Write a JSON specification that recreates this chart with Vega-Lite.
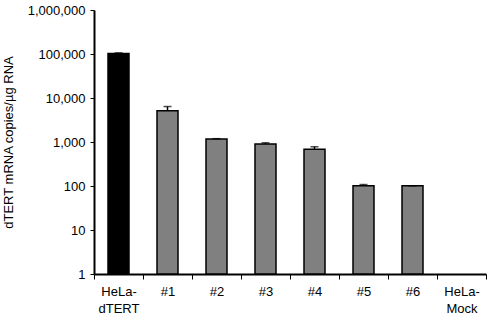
{
  "$schema": "https://vega.github.io/schema/vega-lite/v6.json",
  "width": 392,
  "height": 264,
  "autosize": {"type": "none"},
  "padding": {"left": 94, "top": 10, "right": 2, "bottom": 44},
  "background": "white",
  "config": {
    "view": {"stroke": null},
    "font": "Liberation Sans",
    "style": {"guide-label": {"lineBreak": "\n"}}
  },
  "data": {
    "values": [
      {"sample": "HeLa-dTERT", "value": 103000, "upper": 106000, "group": "pos"},
      {"sample": "#1", "value": 5150, "upper": 6400, "group": "clone"},
      {"sample": "#2", "value": 1170, "upper": 1190, "group": "clone"},
      {"sample": "#3", "value": 900, "upper": 960, "group": "clone"},
      {"sample": "#4", "value": 680, "upper": 780, "group": "clone"},
      {"sample": "#5", "value": 101, "upper": 108, "group": "clone"},
      {"sample": "#6", "value": 101, "upper": 101, "group": "clone"}
    ]
  },
  "layer": [
    {
      "mark": {"type": "bar", "size": 21, "stroke": "black", "strokeWidth": 1.5},
      "encoding": {
        "x": {
          "field": "sample",
          "type": "nominal",
          "sort": null,
          "scale": {"domain": ["HeLa-dTERT", "#1", "#2", "#3", "#4", "#5", "#6", "HeLa-Mock"], "paddingInner": 0, "paddingOuter": 0},
          "axis": {
            "title": null,
            "labelAngle": 0,
            "tickBand": "extent",
            "domainColor": "black",
            "domainWidth": 2,
            "tickColor": "black",
            "tickWidth": 1,
            "tickSize": 5,
            "labelPadding": 6,
            "labelFontSize": 13,
            "labelColor": "black",
            "labelLineHeight": 17,
            "labelExpr": "replace(datum.label, 'HeLa-', 'HeLa-\\n')"
          }
        },
        "y": {
          "field": "value",
          "type": "quantitative",
          "stack": null,
          "scale": {"type": "log", "domain": [1, 1000000]},
          "axis": {
            "title": "dTERT mRNA copies/µg RNA",
            "titleFontSize": 13,
            "titleFontWeight": "normal",
            "titleColor": "black",
            "titlePadding": 12,
            "values": [1, 10, 100, 1000, 10000, 100000, 1000000],
            "format": ",",
            "grid": false,
            "domainColor": "black",
            "domainWidth": 2,
            "tickColor": "black",
            "tickSize": 4,
            "labelPadding": 5,
            "labelFontSize": 13,
            "labelColor": "black"
          }
        },
        "fill": {
          "field": "group",
          "type": "nominal",
          "scale": {"domain": ["pos", "clone"], "range": ["#000000", "#808080"]},
          "legend": null
        }
      }
    },
    {
      "mark": {"type": "rule", "color": "black", "strokeWidth": 1.5},
      "encoding": {
        "x": {"field": "sample", "type": "nominal", "sort": null},
        "y": {"field": "value", "type": "quantitative"},
        "y2": {"field": "upper"}
      }
    },
    {
      "mark": {"type": "tick", "color": "black", "size": 8, "thickness": 1.5},
      "encoding": {
        "x": {"field": "sample", "type": "nominal", "sort": null},
        "y": {"field": "upper", "type": "quantitative"}
      }
    }
  ]
}
